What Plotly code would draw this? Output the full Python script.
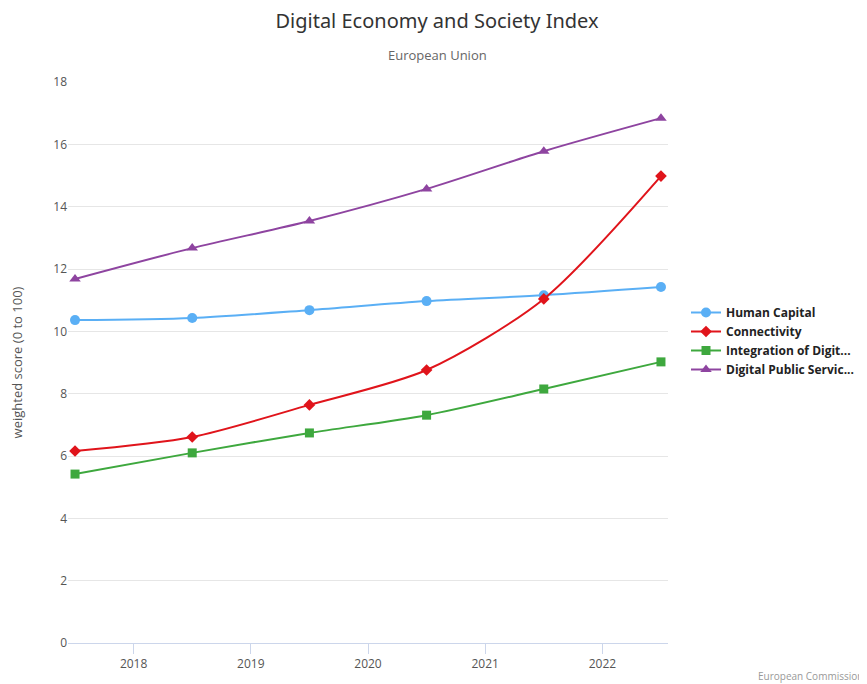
import plotly.graph_objects as go

years = [2017.5, 2018.5, 2019.5, 2020.5, 2021.5, 2022.5]
tick_vals = [2018, 2019, 2020, 2021, 2022]
tick_text = ["2018", "2019", "2020", "2021", "2022"]

human_capital = [10.36, 10.43, 10.68, 10.97, 11.16, 11.42]
connectivity = [6.16, 6.61, 7.64, 8.76, 11.04, 14.98]
integration = [5.42, 6.10, 6.74, 7.31, 8.15, 9.02]
public_services = [11.68, 12.67, 13.54, 14.57, 15.78, 16.84]

series = [
    ("Human Capital", human_capital, "#5aaff5", "circle", 10),
    ("Connectivity", connectivity, "#e0141b", "diamond", 9),
    ("Integration of Digit...", integration, "#3ea83e", "square", 9),
    ("Digital Public Servic...", public_services, "#8e44a0", "triangle-up", 10),
]

OFF = 8  # page body margin
W, H = 859, 676
L, R, T, B = 60, 199, 74, 41

fig = go.Figure()
for name, vals, color, sym, size in series:
    fig.add_trace(go.Scatter(
        x=years, y=vals, name=name, mode="lines+markers",
        line=dict(color=color, width=2, shape="spline", smoothing=0.8),
        marker=dict(symbol=sym, size=size, color=color),
    ))

font = "Open Sans, Noto Sans, sans-serif"
pw, ph = W - L - R, H - T - B
fig.update_layout(
    width=W, height=H,
    paper_bgcolor="white", plot_bgcolor="white",
    margin=dict(l=L, r=R, t=T, b=B, autoexpand=False),
    title=dict(text="Digital Economy and Society Index", x=(437 - OFF - L) / pw, xref="paper",
               xanchor="center", y=1 - (21 - OFF) / H, yanchor="middle",
               font=dict(family="Noto Sans, sans-serif", size=20, color="#333333")),
    font=dict(family=font, color="#555555"),
    showlegend=True,
    legend=dict(x=(686 - OFF - L) / pw, y=1 - (341 - OFF - T) / ph, xanchor="left", yanchor="middle",
                font=dict(size=12, color="#222222", family="Open Sans, sans-serif", weight="bold"),
                tracegroupgap=0, itemwidth=30, bgcolor="rgba(0,0,0,0)"),
    xaxis=dict(range=[2017.44, 2022.56], tickvals=tick_vals, ticktext=tick_text,
               showgrid=False, zeroline=False, showline=True, linecolor="#ccd6eb", linewidth=1,
               ticks="outside", ticklen=10, tickcolor="#ccd6eb", automargin=False,
               tickfont=dict(size=12, color="#555555")),
    yaxis=dict(range=[0, 18], dtick=2, showgrid=True, gridcolor="#e6e6e6", zeroline=False,
               ticks="", tickfont=dict(size=12, color="#555555"), automargin=False,
               title=dict(text="weighted score (0 to 100)", font=dict(size=13, color="#555555"), standoff=29)),
    annotations=[
        dict(text="European Union", xref="paper", yref="paper",
             x=(437 - OFF - L) / pw, y=1 + (T - (55 - OFF)) / ph, xanchor="center", yanchor="middle",
             showarrow=False, font=dict(size=13, color="#666666")),
        dict(text="European Commission", xref="paper", yref="paper",
             x=(W - 2 - L) / pw, y=-(676 - OFF - (T + ph)) / ph,
             xanchor="right", yanchor="middle", showarrow=False,
             font=dict(size=10, color="#999999")),
    ],
)
fig.write_html("out.html")
